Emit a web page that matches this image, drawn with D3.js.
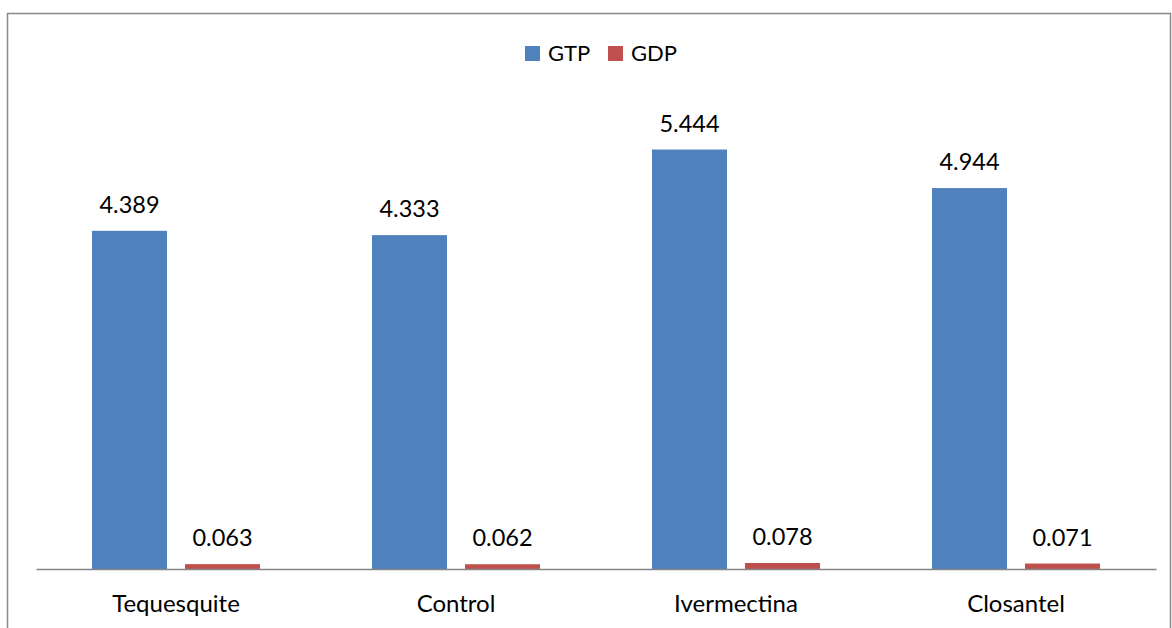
<!DOCTYPE html>
<html>
<head>
<meta charset="utf-8">
<script src="https://cdn.jsdelivr.net/npm/d3@7"></script>
<style>
  html, body { margin: 0; padding: 0; background: #fff; }
  svg { display: block; }
  text { font-family: Lato, "Open Sans", sans-serif; fill: #000; }
</style>
</head>
<body>
<svg id="chart" width="1172" height="628"></svg>
<script>
// Treatment groups and the two nucleotide series
const categories = ["Tequesquite", "Control", "Ivermectina", "Closantel"];
const seriesNames = ["GTP", "GDP"];
const gtpValues = [4.389, 4.333, 5.444, 4.944];
const gdpValues = [0.063, 0.062, 0.078, 0.071];
const seriesColors = ["#4F81BD", "#C0504D"];

const svg = d3.select("#chart");

// Outer chart frame
svg.append("rect")
  .attr("x", 7.5).attr("y", 13.5)
  .attr("width", 1163).attr("height", 700)
  .attr("fill", "none")
  .attr("stroke", "#898989")
  .attr("stroke-width", 1.5);

const plot = { left: 36, right: 1156, top: 106.7, bottom: 569 };

const x0 = d3.scaleBand()
  .domain(categories)
  .range([plot.left, plot.right])
  .paddingInner(0).paddingOuter(0);

const y = d3.scaleLinear()
  .domain([0, 6])
  .range([plot.bottom, plot.top]);

const rows = categories.map((c, i) => ({
  category: c,
  values: [
    { series: seriesNames[0], value: gtpValues[i], color: seriesColors[0] },
    { series: seriesNames[1], value: gdpValues[i], color: seriesColors[1] }
  ]
}));

const groups = svg.append("g").selectAll("g")
  .data(rows)
  .join("g")
  .attr("transform", d => `translate(${x0(d.category)},0)`);

// Bars of each group sit side by side around the band centre
const barW = 75, gap = 18;
const offset = s => (s === seriesNames[0] ? x0.bandwidth() / 2 - gap / 2 - barW : x0.bandwidth() / 2 + gap / 2);

groups.selectAll("rect")
  .data(d => d.values)
  .join("rect")
  .attr("x", d => offset(d.series))
  .attr("y", d => y(d.value))
  .attr("width", barW)
  .attr("height", d => y(0) - y(d.value))
  .attr("fill", d => d.color);

// Value labels above each bar
groups.selectAll("text.val")
  .data(d => d.values)
  .join("text")
  .attr("class", "val")
  .attr("x", d => offset(d.series) + barW / 2)
  .attr("y", d => y(d.value) - 18)
  .attr("text-anchor", "middle")
  .attr("font-size", 23.5)
  .text(d => d3.format(".3f")(d.value));

// Category axis
const xAxis = d3.axisBottom(x0).tickSize(0).tickPadding(0);
const axisG = svg.append("g")
  .attr("transform", `translate(0,${plot.bottom})`)
  .call(xAxis);
axisG.select(".domain").attr("stroke", "#868686").attr("stroke-width", 1.5);
axisG.selectAll(".tick text")
  .attr("font-size", 24)
  .attr("font-family", "Lato, sans-serif")
  .attr("fill", "#000")
  .attr("dy", 0)
  .attr("y", 43);

// Legend
const legend = svg.append("g");
const legendItems = [
  { name: seriesNames[0], color: seriesColors[0], x: 525 },
  { name: seriesNames[1], color: seriesColors[1], x: 608 }
];
legendItems.forEach(it => {
  legend.append("rect")
    .attr("x", it.x).attr("y", 46)
    .attr("width", 15).attr("height", 15)
    .attr("fill", it.color);
  legend.append("text")
    .attr("x", it.x + 23).attr("y", 61)
    .attr("font-size", 22)
    .text(it.name);
});
</script>
</body>
</html>
